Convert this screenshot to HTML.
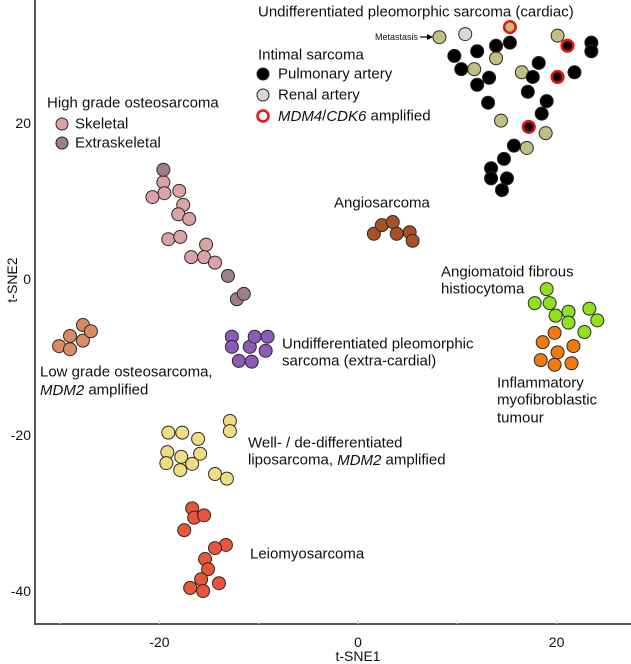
<!DOCTYPE html>
<html><head><meta charset="utf-8">
<style>
html,body{margin:0;padding:0;background:#fff;}
svg{display:block;font-family:"Liberation Sans",Arial,sans-serif;}
text{fill:#111;}
</style></head>
<body>
<svg id="chart" width="631" height="664" viewBox="0 0 631 664">
  <g id="axes"></g>
  <g id="points"></g>
  <g id="labels" font-size="15" dominant-baseline="central">
    <text x="258" y="12">Undifferentiated pleomorphic sarcoma (cardiac)</text>
    <text x="418" y="37" font-size="9" text-anchor="end">Metastasis</text>
    <line x1="420" y1="37" x2="431" y2="37" stroke="#000" stroke-width="1.2"/>
    <polygon points="433,37 427,34 427,40" fill="#000"/>
    <text x="258" y="55">Intimal sarcoma</text>
    <circle cx="263" cy="74" r="6" fill="#000" stroke="#222"/>
    <text x="278" y="74">Pulmonary artery</text>
    <circle cx="263" cy="95" r="6" fill="#d8d8d8" stroke="#222"/>
    <text x="278" y="95">Renal artery</text>
    <circle cx="263" cy="116" r="5.5" fill="#fff" stroke="#e8140c" stroke-width="2.5"/>
    <text x="278" y="116"><tspan font-style="italic">MDM4</tspan>/<tspan font-style="italic">CDK6</tspan> amplified</text>
    <text x="47" y="103">High grade osteosarcoma</text>
    <circle cx="62" cy="124" r="6" fill="#dba3a5" stroke="#222"/>
    <text x="75" y="124">Skeletal</text>
    <circle cx="62" cy="143" r="6" fill="#9e7d8e" stroke="#222"/>
    <text x="75" y="143">Extraskeletal</text>
    <text x="40" y="372">Low grade osteosarcoma,</text>
    <text x="40" y="390"><tspan font-style="italic">MDM2</tspan> amplified</text>
    <text x="282" y="344">Undifferentiated pleomorphic</text>
    <text x="282" y="361">sarcoma (extra-cardial)</text>
    <text x="248" y="443">Well- / de-differentiated</text>
    <text x="248" y="460">liposarcoma, <tspan font-style="italic">MDM2</tspan> amplified</text>
    <text x="250" y="554">Leiomyosarcoma</text>
    <text x="334" y="203">Angiosarcoma</text>
    <text x="441" y="272">Angiomatoid fibrous</text>
    <text x="441" y="289">histiocytoma</text>
    <text x="497" y="383">Inflammatory</text>
    <text x="497" y="400">myofibroblastic</text>
    <text x="497" y="418">tumour</text>
  </g>
</svg>
<script>
const xTicks = [-20, 0, 20];
const yTicks = [20, 0, -20, -40];
const xMinor = [-30, -10, 10];
const groups = ["skeletal","extraskeletal","lowgrade","ups-extracardial","liposarcoma","leiomyosarcoma","angiosarcoma","afh","imt","cardiac-ups","pulmonary","renal","pulmonary-amplified","cardiac-ups-amplified"];
const skeletalX = [-19.6,-19.5,-20.7,-18.0,-17.6,-18.1,-17.0,-19.1,-17.9,-15.3,-16.8,-15.5,-14.4];
const skeletalY = [12.4,11.0,10.5,11.3,9.5,8.3,7.7,5.1,5.4,4.4,2.8,2.8,2.1];
const extraX = [-19.6,-13.1,-12.2,-11.5];
const extraY = [14.0,0.4,-2.6,-1.9];
const lowX = [-30.1,-29.0,-29.0,-27.7,-27.7,-26.9];
const lowY = [-8.6,-9.0,-7.3,-7.9,-5.9,-6.7];
const upsX = [-12.7,-12.7,-10.9,-10.4,-9.1,-9.3,-12.0,-10.7];
const upsY = [-7.4,-8.7,-8.7,-7.4,-7.4,-9.2,-10.5,-10.6];
const lipoX = [-19.1,-17.7,-16.1,-19.2,-17.8,-15.9,-19.3,-17.9,-16.7,-12.9,-12.9,-14.4,-13.2];
const lipoY = [-19.7,-19.7,-20.5,-22.2,-22.8,-22.4,-23.6,-24.5,-23.7,-18.2,-19.5,-25.0,-25.6];
const leioX = [-16.7,-16.5,-15.5,-17.5,-13.3,-14.4,-15.4,-15.1,-15.8,-16.9,-15.6,-14.0];
const leioY = [-29.4,-30.6,-30.3,-32.2,-34.1,-34.5,-35.9,-37.2,-38.5,-39.6,-40.0,-39.0];
const angioX = [1.6,2.4,3.5,3.9,5.2,5.5];
const angioY = [5.8,6.9,7.3,5.8,6.0,4.9];
const afhX = [19.0,17.8,19.3,19.9,21.2,21.2,23.3,24.1,22.8];
const afhY = [-1.3,-3.1,-3.1,-4.7,-4.2,-5.6,-3.8,-5.3,-6.8];
const imtX = [19.8,18.6,21.7,20.1,18.4,19.8,21.5];
const imtY = [-6.9,-8.1,-8.6,-9.4,-10.4,-11.0,-10.8];
const cardiacX = [8.2,13.9,11.7,16.5,20.1,14.4,18.9,17.0];
const cardiacY = [31.0,28.3,26.9,26.5,31.2,20.3,18.7,16.8];
const pulmX = [13.9,15.3,9.7,12.0,10.4,13.2,12.0,18.2,17.6,21.8,23.5,23.5,17.1,19.0,18.5,13.1,15.7,14.7,13.4,13.4,15.0,14.5];
const pulmY = [29.9,30.3,28.6,29.2,26.9,25.8,24.9,27.7,25.9,26.5,30.3,29.2,24.0,22.8,21.2,22.6,17.1,15.4,14.2,12.9,12.9,11.4];
const renalX = [10.8];
const renalY = [31.4];
const pulmAmpX = [21.1,20.1,17.2];
const pulmAmpY = [29.9,25.9,19.5];
const cardAmpX = [15.3];
const cardAmpY = [32.3];

const X = v => 358 + 9.93 * v;
const Y = v => 279 - 7.8 * v;
const NS = "http://www.w3.org/2000/svg";
const axes = document.getElementById("axes");
const pts = document.getElementById("points");
function mk(tag, attrs, parent){const e=document.createElementNS(NS,tag);for(const k in attrs)e.setAttribute(k,attrs[k]);parent.appendChild(e);return e;}

let l = mk("line",{x1:35,y1:0,x2:35,y2:625,stroke:"#555","stroke-width":2},axes);


l = mk("line",{x1:34,y1:624,x2:631,y2:624,stroke:"#555","stroke-width":2},axes);


xTicks.forEach(v=>{
  const t = mk("text",{x:X(v),y:642,"text-anchor":"middle","font-size":14,"dominant-baseline":"central"},axes);
  t.textContent = v;
  
  
  const k = mk("line",{x1:X(v),y1:624,x2:X(v),y2:620,stroke:"#ccc"},axes);
  
  
});
xMinor.forEach(v=>{
  const k = mk("line",{x1:X(v),y1:624,x2:X(v),y2:620,stroke:"#ddd"},axes);
  
  
});
yTicks.forEach(v=>{
  const t = mk("text",{x:31,y:Y(v),"text-anchor":"end","font-size":14,"dominant-baseline":"central"},axes);
  t.textContent = v;
  
  
});
let xt = mk("text",{x:358,y:656,"text-anchor":"middle","font-size":14,"dominant-baseline":"central"},axes);
xt.textContent = "t-SNE1";


let yt = mk("text",{x:12,y:280,"text-anchor":"middle","font-size":14,"dominant-baseline":"central",transform:"rotate(-90 12 280)"},axes);
yt.textContent = "t-SNE2";



function series(xs, ys, fill, stroke, sw, name){
  xs.forEach((xv,i)=>{
    const c = mk("circle",{cx:X(xv),cy:Y(ys[i]),r:stroke==="#e8140c"?5.8:6.5,fill:fill,stroke:stroke,"stroke-width":sw},pts);
    
    
  });
}
series(skeletalX, skeletalY, "#dba3a5", "#2a2a2a", 1, "skeletal-point");
series(extraX, extraY, "#9e7d8e", "#2a2a2a", 1, "extraskeletal-point");
series(lowX, lowY, "#d98c63", "#2a2a2a", 1, "low-grade-point");
series(upsX, upsY, "#8a5cb8", "#2a2a2a", 1, "ups-extracardial-point");
series(lipoX, lipoY, "#f0dc82", "#2a2a2a", 1, "liposarcoma-point");
series(leioX, leioY, "#e8553a", "#2a2a2a", 1, "leiomyosarcoma-point");
series(angioX, angioY, "#a85124", "#2a2a2a", 1, "angiosarcoma-point");
series(afhX, afhY, "#90e01c", "#2a2a2a", 1, "afh-point");
series(imtX, imtY, "#f07a10", "#2a2a2a", 1, "imt-point");
series(cardiacX, cardiacY, "#c2bd82", "#2a2a2a", 1, "cardiac-ups-point");
series(pulmX, pulmY, "#000", "#222", 1, "pulmonary-point");
series(renalX, renalY, "#d8d8d8", "#2a2a2a", 1, "renal-point");
series(pulmAmpX, pulmAmpY, "#000", "#e8140c", 2.5, "pulmonary-amplified-point");
series(cardAmpX, cardAmpY, "#c2bd82", "#e8140c", 2.5, "cardiac-amplified-point");
</script>
</body></html>
